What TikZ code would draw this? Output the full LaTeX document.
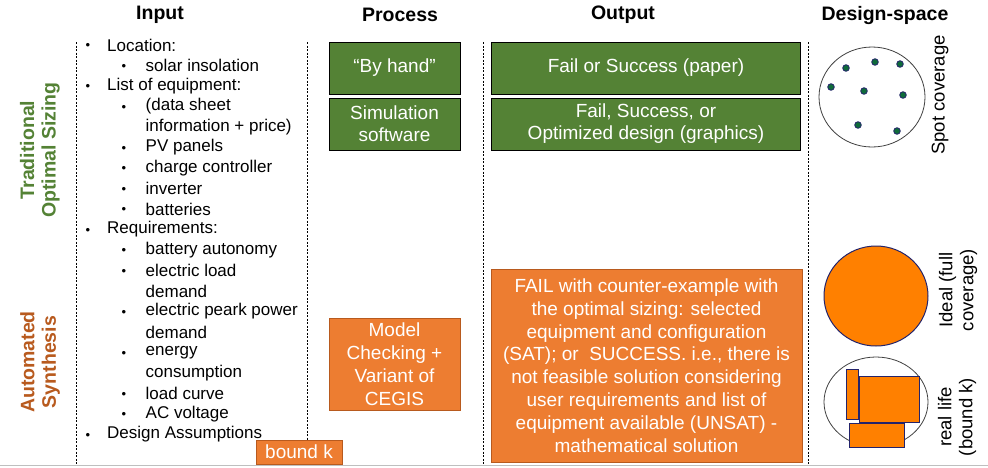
\documentclass[tikz,border=0pt]{standalone}
\usepackage{fontspec}
\setmainfont{Liberation Sans}
\usetikzlibrary{positioning}
\definecolor{tradgreen}{HTML}{548235}
\definecolor{synorange}{HTML}{ED7D31}
\definecolor{synedge}{HTML}{B85A1E}
\definecolor{spacefill}{HTML}{FF8000}
\definecolor{spaceedge}{HTML}{23236B}
\definecolor{dotfill}{HTML}{0F6B3A}

\begin{document}
\begin{tikzpicture}[x=1pt,y=-1pt,
  txt/.style={font=\fontsize{17}{20.5}\selectfont,inner sep=0pt,anchor=west},
  bul/.style={font=\fontsize{13}{13}\selectfont,inner sep=0pt},
  head/.style={font=\fontsize{19.5}{22}\selectfont\bfseries},
  side/.style={rotate=90,align=center,font=\fontsize{19.5}{21.5}\selectfont\bfseries},
  lbl/.style={rotate=90,align=center,font=\fontsize{18.5}{21}\selectfont,inner sep=0pt},
  gbox/.style={draw=black,fill=tradgreen,text=white,align=center,minimum height=52pt,
    font=\fontsize{19}{22}\selectfont,inner sep=2pt},
  obox/.style={draw=synedge,fill=synorange,text=white,align=center,
    font=\fontsize{19}{22.8}\selectfont,inner sep=2pt},
  sep/.style={dash pattern=on 2pt off 1.5pt,line width=0.8pt},
  patch/.style={draw=spaceedge,fill=spacefill,line width=1pt}]
  \useasboundingbox (0,0) rectangle (988,467);

  % column headings
  \node[head] (hin)  at (160,15) {Input};
  \node[head] (hpro) at (400,15) {Process};
  \node[head] (hout) at (623,15) {Output};
  \node[head] (hdes) at (885,15) {Design-space};

  % row labels
  \node[side,text=tradgreen] (trad) at (40,150) {Traditional\\Optimal Sizing};
  \node[side,text=synedge]   (auto) at (40,362) {Automated\\Synthesis};

  % column separators
  \foreach \xx in {76,307,483,808}
    \draw[sep] (\xx,42) -- (\xx,464);
  \draw[black!25,line width=1.5pt] (0,465.5) -- (988,465.5);

  % input list
  \foreach \lv/\txt [count=\n from 0] in {1/Location:, 2/solar insolation,
      1/List of equipment:, 2/{(data sheet}, 3/{information + price)}, 2/PV panels,
      2/charge controller, 2/inverter, 2/batteries, 1/Requirements:,
      2/battery autonomy, 2/electric load, 3/demand, 2/electric peark power,
      3/demand, 2/energy, 3/consumption, 2/load curve, 2/AC voltage,
      1/Design Assumptions}{
    \pgfmathsetmacro\yy{45+20.5*\n}
    \ifcase\lv\or
      \node[bul] (dot\n) at (88,\yy+1.5) {\textbullet};
      \node[txt] (in\n) at (107,\yy) {\txt};
    \or
      \node[bul] (dot\n) at (124,\yy+1.5) {\textbullet};
      \node[txt] (in\n) at (145.5,\yy) {\txt};
    \or
      \node[txt] (in\n) at (145.5,\yy) {\txt};
    \fi
  }
  \node[obox,minimum width=86pt,minimum height=24pt,font=\fontsize{19}{20}\selectfont]
    (bound) at (299,452) {bound k};

  % process
  \node[gbox,minimum width=131pt] (byhand) at (394.5,68) {``By hand''};
  \node[gbox,minimum width=131pt] (simsw)  at (394.5,124) {Simulation\\software};
  \node[obox,minimum width=131pt,minimum height=92pt] (mcheck) at (394.5,364)
    {Model\\Checking +\\Variant of\\CEGIS};

  % output
  \node[gbox,minimum width=309pt] (paper)   at (646,68) {Fail or Success (paper)};
  \node[gbox,minimum width=309pt] (graphic) at (646,124) {Fail, Success, or\\Optimized design (graphics)};
  \node[obox,minimum width=311pt,minimum height=193pt] (result) at (646.5,365.5)
    {FAIL with counter-example with\\the optimal sizing: selected\\equipment and configuration\\
     (SAT); or~ SUCCESS. i.e., there is\\not feasible solution considering\\
     user requirements and list of\\equipment available (UNSAT) -\\mathematical solution};

  % design space
  \draw[black!75,line width=0.8pt] (872,97) ellipse [x radius=53,y radius=50];
  \foreach \px/\py in {846/68, 875/62, 900/64, 831/87, 864/91, 903/95, 858/125, 897/131}
    \filldraw[fill=dotfill,draw=spaceedge,line width=0.8pt] (\px,\py) circle [radius=3.3];
  \node[lbl] (spot) at (940,95) {Spot coverage};

  \draw[patch] (876,296) ellipse [x radius=52,y radius=50];
  \node[lbl] (ideal) at (958,290) {Ideal (full\\coverage)};

  \draw[black!75,line width=0.8pt] (876,402) ellipse [x radius=52,y radius=45];
  \draw[patch] (846,369) rectangle (858,419);
  \draw[patch] (859,376) rectangle (919,422);
  \draw[patch] (849,423) rectangle (904,447);
  \node[lbl] (real) at (957,417) {real life\\(bound k)};
\end{tikzpicture}
\end{document}
